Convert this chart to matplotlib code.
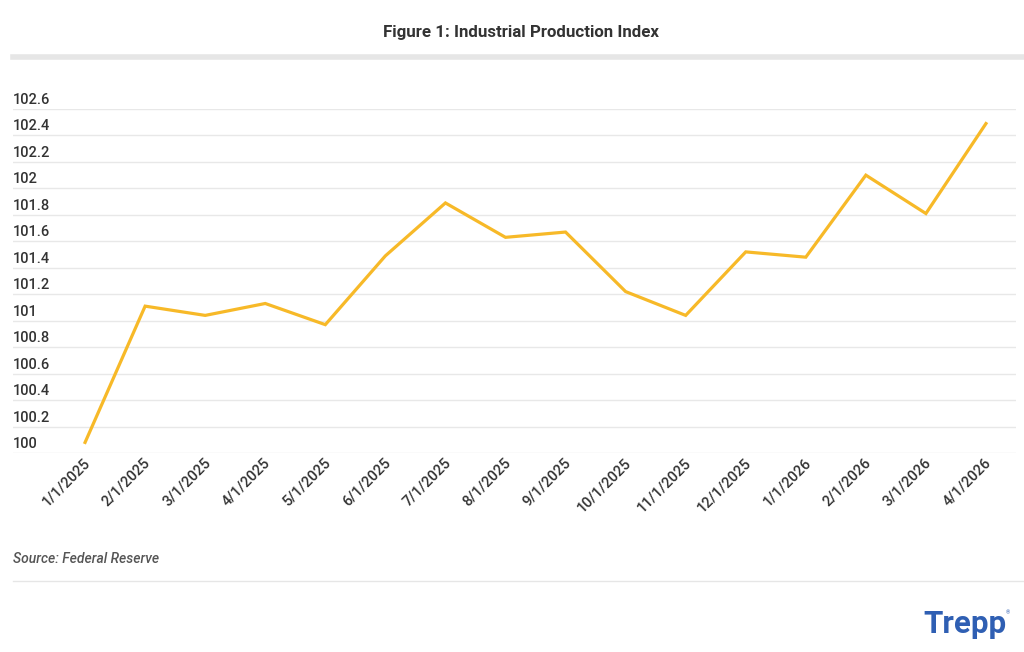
import matplotlib
matplotlib.use("Agg")
import matplotlib.pyplot as plt
import matplotlib.transforms as mtransforms
from matplotlib.lines import Line2D

dates = ["1/1/2025", "2/1/2025", "3/1/2025", "4/1/2025", "5/1/2025", "6/1/2025",
         "7/1/2025", "8/1/2025", "9/1/2025", "10/1/2025", "11/1/2025", "12/1/2025",
         "1/1/2026", "2/1/2026", "3/1/2026", "4/1/2026"]
values = [100.08, 101.11, 101.04, 101.13, 100.97, 101.49, 101.89, 101.63,
          101.67, 101.22, 101.04, 101.52, 101.48, 102.10, 101.81, 102.49]
y_ticks = [100, 100.2, 100.4, 100.6, 100.8, 101, 101.2, 101.4, 101.6, 101.8,
           102, 102.2, 102.4, 102.6]
y_labels = ["100", "100.2", "100.4", "100.6", "100.8", "101", "101.2", "101.4",
            "101.6", "101.8", "102", "102.2", "102.4", "102.6"]

W, H = 1024, 652
fig = plt.figure(figsize=(W / 100, H / 100), dpi=100)
fig.patch.set_facecolor("white")

txt = "#333333"
ax = fig.add_axes([13 / W, (H - 453) / H, (1016 - 13) / W, (453 - 109) / H])
x = list(range(len(dates)))
ax.plot(x, values, color="#F7B928", lw=2.3, solid_joinstyle="miter", zorder=3)
ax.set_xlim(-1.2, 15.5)
ax.set_ylim(100, 102.6)
ax.set_yticks(y_ticks)
ax.set_yticklabels([])
ax.tick_params(axis="y", length=0)
ax.grid(axis="y", color="#e8e8e8", lw=1)
ax.set_axisbelow(True)
for s in ax.spines.values():
    s.set_visible(False)

ax.set_xticks(x)
ax.set_xticklabels(dates, rotation=45, ha="right", va="top", rotation_mode="anchor",
                   fontsize=10.5, family="Roboto", fontweight="medium", color=txt)
ax.tick_params(axis="x", length=0, pad=2)
xoff = mtransforms.ScaledTranslation(-2 / 100, 0, fig.dpi_scale_trans)
for lab in ax.get_xticklabels():
    lab.set_transform(lab.get_transform() + xoff)

trans = mtransforms.offset_copy(ax.get_yaxis_transform(), fig=fig, x=0, y=9, units="dots")
for v, lab in zip(y_ticks, y_labels):
    ax.text(0, v, lab, transform=trans, ha="left", va="center", fontsize=10.5,
            family="Roboto", fontweight="medium", color=txt)

fig.text(521 / W, 1 - 32 / H, "Figure 1: Industrial Production Index", ha="center",
         va="center", fontsize=12.2, fontweight="bold", family="Roboto", color=txt)
fig.add_artist(Line2D([13 / W, 1.0], [1 - 57 / H, 1 - 57 / H], color="#e6e6e6", lw=4,
                      transform=fig.transFigure))
fig.text(13 / W, 1 - 559 / H, "Source: Federal Reserve", ha="left", va="center",
         fontsize=10, fontstyle="italic", fontweight="medium", family="Roboto",
         color="#555555")
fig.add_artist(Line2D([13 / W, 1.0], [1 - 581 / H, 1 - 581 / H], color="#e6e6e6", lw=1,
                      transform=fig.transFigure))
fig.text(923 / W, 1 - 624 / H, "Trepp", ha="left", va="center", fontsize=22.5,
         fontweight="bold", family="Roboto", color="#2f5fb3")
fig.text(1006 / W, 1 - 613 / H, "®", ha="left", va="center", fontsize=4,
         family="Roboto", color="#2f5fb3")

fig.savefig("out.png", dpi=100, facecolor="white")
